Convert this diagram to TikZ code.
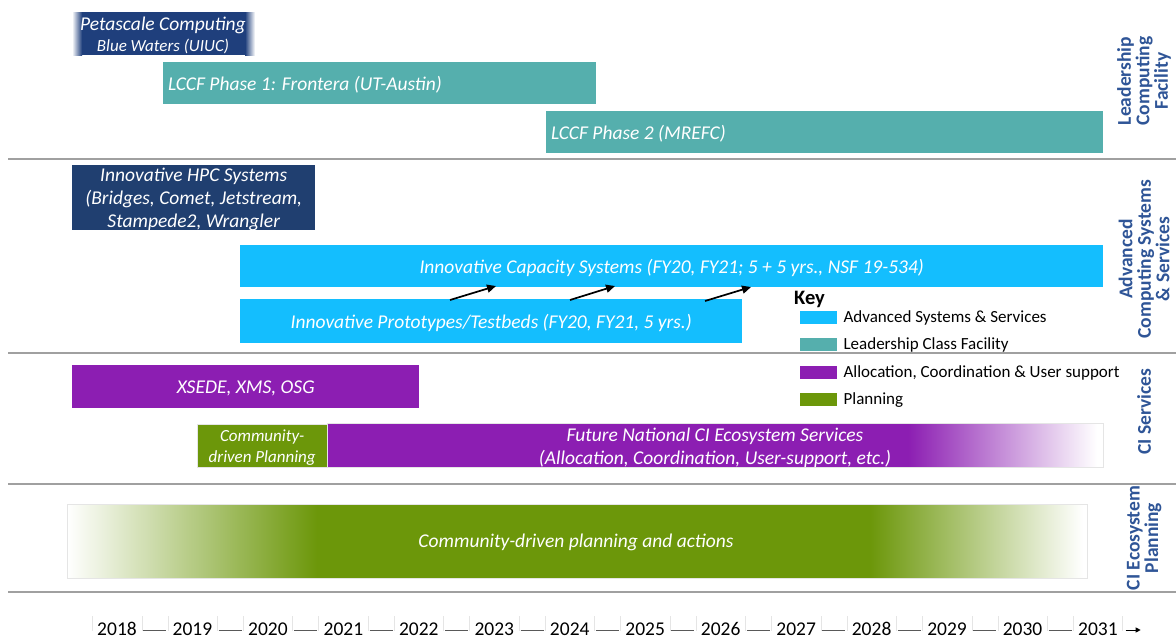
\documentclass[tikz,border=0pt]{standalone}
\usepackage{fontspec}
\setmainfont{Carlito}
\usepackage{xcolor}
\usepackage{tikz}
\usetikzlibrary{arrows.meta,positioning,calc}

\definecolor{petablue}{RGB}{31,63,124}
\definecolor{hpcblue}{RGB}{32,63,112}
\definecolor{lccfteal}{RGB}{85,175,173}
\definecolor{acsblue}{RGB}{20,190,254}
\definecolor{cipurple}{RGB}{140,30,178}
\definecolor{plangreen}{RGB}{108,151,10}
\definecolor{labelblue}{RGB}{47,85,151}
\definecolor{rulegray}{RGB}{160,160,160}

\tikzset{
  bar/.style={rectangle,inner sep=0pt,anchor=north west},
  bartext/.style={text=white,inner sep=0pt,align=center,yshift=-1.5pt,font=\fontsize{19.5}{23}\selectfont\itshape},
  keybox/.style={rectangle,inner sep=0pt,minimum width=37,minimum height=13,anchor=west},
  keytext/.style={anchor=west,inner sep=0pt,yshift=-1pt,font=\fontsize{17}{20}\selectfont},
  sidelabel/.style={rotate=90,align=center,text=labelblue,font=\fontsize{19.5}{18.5}\selectfont\bfseries},
  yearbox/.style={minimum width=49,minimum height=25,inner sep=0pt,font=\fontsize{19.5}{22}\selectfont},
  rule/.style={rulegray,line width=1.2pt},
}

\begin{document}
\begin{tikzpicture}[x=1pt,y=-1pt]
\useasboundingbox[fill=white] (0,0) rectangle (1176,640);

% section rules
\draw[rule] (8,159) -- (1176,159);
\draw[rule] (8,353) -- (1176,353);
\draw[rule] (8,484) -- (1176,484);
\draw[rule] (8,592) -- (1176,592);

% Leadership Computing Facility
\fill[petablue] (82,12) rectangle (245,55);
\shade[left color=white,right color=petablue] (72,12) rectangle (82,55);
\shade[left color=petablue,right color=white] (245,12) rectangle (255,55);
\node[bartext] (peta) at (163,34) {{\fontsize{19.5}{22}\selectfont Petascale Computing}\\[-2pt]{\fontsize{17}{20}\selectfont Blue Waters (UIUC)}};

\node[bar,fill=lccfteal,minimum width=433,minimum height=42] (lccf1) at (163,62) {};
\node[bartext,anchor=west] (lccf1t) at ([xshift=5]lccf1.west) {LCCF Phase 1: Frontera (UT-Austin)};
\node[bar,fill=lccfteal,minimum width=557,minimum height=42] (lccf2) at (546,111) {};
\node[bartext,anchor=west] (lccf2t) at ([xshift=5]lccf2.west) {LCCF Phase 2 (MREFC)};

% Advanced Computing Systems & Services
\node[bar,fill=hpcblue,minimum width=243,minimum height=65] (hpc) at (72,165) {};
\node[bartext] (hpct) at (hpc.center) {Innovative HPC Systems\\(Bridges, Comet, Jetstream,\\Stampede2, Wrangler};
\node[bar,fill=acsblue,minimum width=863,minimum height=42] (capacity) at (240,245) {};
\node[bartext] (capt) at (capacity.center) {Innovative Capacity Systems (FY20, FY21; 5 + 5 yrs., NSF 19-534)};
\node[bar,fill=acsblue,minimum width=502,minimum height=44] (proto) at (240,299) {};
\node[bartext] (protot) at (proto.center) {Innovative Prototypes/Testbeds (FY20, FY21, 5 yrs.)};

\coordinate (a1) at (450,300);
\coordinate (b1) at (496,286);
\coordinate (a2) at (570,300);
\coordinate (b2) at (615,286);
\coordinate (a3) at (705,301);
\coordinate (b3) at (751,287);
\draw[-{Triangle[length=9,width=8]},line width=1.7] (a1) -- (b1);
\draw[-{Triangle[length=9,width=8]},line width=1.7] (a2) -- (b2);
\draw[-{Triangle[length=9,width=8]},line width=1.7] (a3) -- (b3);

% key
\node[anchor=west,inner sep=0pt,font=\fontsize{20.5}{22}\selectfont\bfseries] (key) at (794,299) {Key};
\node[keybox,fill=acsblue] (k1) at (800,317) {};
\node[keytext] at ([xshift=6]k1.east) {Advanced Systems \& Services};
\node[keybox,fill=lccfteal] (k2) at (800,344) {};
\node[keytext] at ([xshift=6]k2.east) {Leadership Class Facility};
\node[keybox,fill=cipurple] (k3) at (800,372) {};
\node[keytext] at ([xshift=6]k3.east) {Allocation, Coordination \& User support};
\node[keybox,fill=plangreen] (k4) at (800,399) {};
\node[keytext] at ([xshift=6]k4.east) {Planning};

% CI Services
\node[bar,fill=cipurple,minimum width=347,minimum height=43] (xsede) at (72,365) {};
\node[bartext] (xsedet) at (xsede.center) {XSEDE, XMS, OSG};
\node[bar,fill=plangreen,minimum width=130,minimum height=43,draw=gray!20] (cdp) at (197,424) {};
\node[bartext,font=\fontsize{17}{21}\selectfont\itshape] (cdpt) at (cdp.center) {Community-\\driven Planning};
\fill[cipurple] (327,423) rectangle (908,467);
\shade[left color=cipurple,right color=white] (908,423) rectangle (1097,467);
\draw[gray!20] (327,423) rectangle (1103,467);
\node[bartext] (future) at (715,446) {Future National CI Ecosystem Services\\(Allocation, Coordination, User-support, etc.)};

% CI Ecosystem Planning
\shade[left color=white,right color=plangreen] (67,504) rectangle (317,578);
\fill[plangreen] (317,504) rectangle (870,578);
\shade[left color=plangreen,right color=white] (870,504) rectangle (1083,578);
\draw[gray!20] (67,504) rectangle (1087,578);
\node[bartext] (actions) at (576,541) {Community-driven planning and actions};

% side labels
\node[sidelabel] (lcf) at (1144,81) {Leadership\\Computing\\Facility};
\node[sidelabel] (acs) at (1144,259) {Advanced\\Computing Systems\\\& Services};
\node[sidelabel] (cis) at (1144,412) {CI Services};
\node[sidelabel] (eco) at (1144,538) {CI Ecosystem\\Planning};

% years
\foreach \yr [count=\i from 0] in {2018,2019,2020,2021,2022,2023,2024,2025,2026,2027,2028,2029,2030,2031} {
  \node[yearbox] (y\yr) at (117+75.46*\i,629) {\yr};
  \draw[gray!20] (y\yr.north west) -- ++(0,15);
  \draw[gray!20] (y\yr.north east) -- ++(0,15);
}
\foreach \a/\b in {2018/2019,2019/2020,2020/2021,2021/2022,2022/2023,2023/2024,2024/2025,2025/2026,2026/2027,2027/2028,2028/2029,2029/2030,2030/2031}
  \draw[gray!70!black,line width=1] ([xshift=1.5,yshift=-1]y\a.east) -- ([xshift=-1.5,yshift=-1]y\b.west);
\coordinate (yend) at ([xshift=18,yshift=-1]y2031.east);
\draw[-{Triangle[length=5,width=5]},line width=1] ([xshift=3,yshift=-1]y2031.east) -- (yend);
\end{tikzpicture}
\end{document}
